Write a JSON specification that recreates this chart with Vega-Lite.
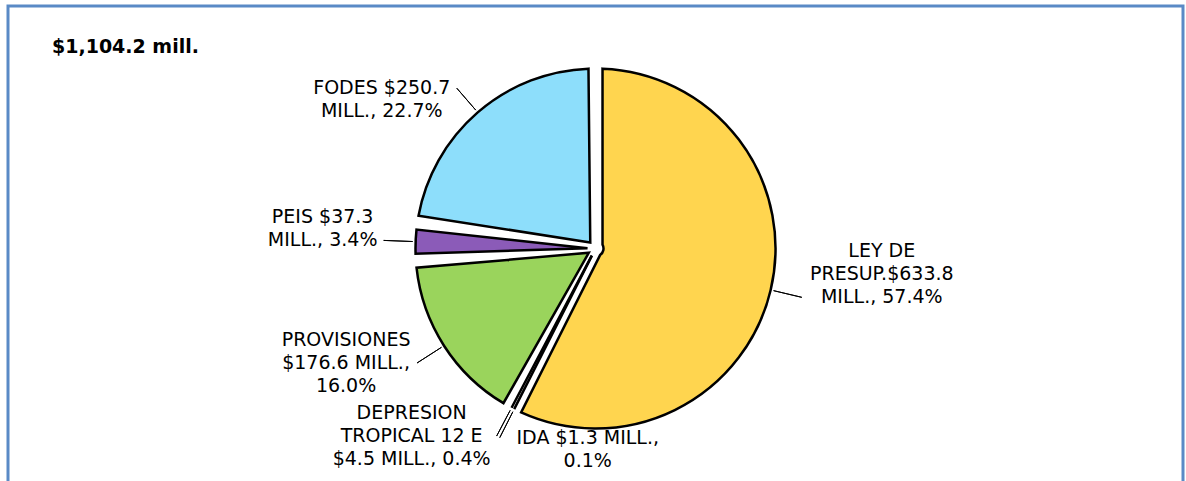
{
  "$schema": "https://vega.github.io/schema/vega-lite/v6.json",
  "width": 1186,
  "height": 481,
  "autosize": {"type": "fit", "contains": "padding"},
  "padding": {"left": 8, "top": 6, "right": 3, "bottom": -10},
  "background": "white",
  "view": {"stroke": "#5A8AC6", "strokeWidth": 3, "fill": "white"},
  "title": {
    "text": "$1,104.2 mill.",
    "anchor": "start",
    "frame": "group",
    "orient": "top",
    "offset": -66,
    "dx": 44,
    "baseline": "alphabetic",
    "font": "DejaVu Sans",
    "fontSize": 19,
    "fontWeight": "bold",
    "color": "#000000"
  },
  "config": {
    "view": {"stroke": "#5A8AC6", "strokeWidth": 3},
    "font": "DejaVu Sans"
  },
  "data": {
    "values": [
      {"rubro": "LEY DE PRESUP.", "orden": 1, "monto": 633.8, "etiqueta": ["LEY DE", "PRESUP.$633.8", "MILL., 57.4%"]},
      {"rubro": "IDA", "orden": 2, "monto": 1.3, "etiqueta": ["IDA $1.3 MILL.,", "0.1%"]},
      {"rubro": "DEPRESION TROPICAL 12 E", "orden": 3, "monto": 4.5, "etiqueta": ["DEPRESION", "TROPICAL 12 E", "$4.5 MILL., 0.4%"]},
      {"rubro": "PROVISIONES", "orden": 4, "monto": 176.6, "etiqueta": ["PROVISIONES", "$176.6 MILL.,", "16.0%"]},
      {"rubro": "PEIS", "orden": 5, "monto": 37.3, "etiqueta": ["PEIS $37.3", "MILL., 3.4%"]},
      {"rubro": "FODES", "orden": 6, "monto": 250.7, "etiqueta": ["FODES $250.7", "MILL., 22.7%"]}
    ]
  },
  "transform": [
    {"stack": "monto", "groupby": [], "sort": [{"field": "orden", "order": "ascending"}], "as": ["a0", "a1"]},
    {"calculate": "(datum.a0 + datum.a1) / 2", "as": "amid"}
  ],
  "layer": [
    {
      "mark": {"type": "arc", "radius": 180, "radius2": 8, "padAngle": 0.078, "stroke": "#000000", "strokeWidth": 2.5, "strokeJoin": "miter"},
      "encoding": {
        "theta": {"field": "a1", "type": "quantitative", "scale": {"nice": false, "zero": true}},
        "theta2": {"field": "a0"},
        "color": {
          "field": "rubro",
          "type": "nominal",
          "scale": {
            "domain": ["LEY DE PRESUP.", "IDA", "DEPRESION TROPICAL 12 E", "PROVISIONES", "PEIS", "FODES"],
            "range": ["#FFD54F", "#3CB4E5", "#1A1A1A", "#9AD45C", "#8B5BB8", "#8DDEFB"]
          },
          "legend": null
        }
      }
    },
    {
      "mark": {"type": "arc", "radius": 212, "radius2": 183, "filled": false, "stroke": "#000000", "strokeWidth": 1},
      "encoding": {
        "theta": {"field": "amid", "type": "quantitative"},
        "theta2": {"field": "amid"}
      }
    },
    {
      "transform": [{"filter": "datum.orden === 1"}],
      "mark": {"type": "text", "radius": 212, "align": "center", "baseline": "middle", "dx": 80, "dy": -46, "fontSize": 19, "lineHeight": 23, "color": "#000000"},
      "encoding": {"theta": {"field": "amid", "type": "quantitative"}, "text": {"field": "etiqueta"}}
    },
    {
      "transform": [{"filter": "datum.orden === 2"}],
      "mark": {"type": "text", "radius": 212, "align": "center", "baseline": "middle", "dx": 88, "dy": 0, "fontSize": 19, "lineHeight": 23, "color": "#000000"},
      "encoding": {"theta": {"field": "amid", "type": "quantitative"}, "text": {"field": "etiqueta"}}
    },
    {
      "transform": [{"filter": "datum.orden === 3"}],
      "mark": {"type": "text", "radius": 212, "align": "center", "baseline": "middle", "dx": -85, "dy": -23, "fontSize": 19, "lineHeight": 23, "color": "#000000"},
      "encoding": {"theta": {"field": "amid", "type": "quantitative"}, "text": {"field": "etiqueta"}}
    },
    {
      "transform": [{"filter": "datum.orden === 4"}],
      "mark": {"type": "text", "radius": 212, "align": "center", "baseline": "middle", "dx": -71, "dy": -23, "fontSize": 19, "lineHeight": 23, "color": "#000000"},
      "encoding": {"theta": {"field": "amid", "type": "quantitative"}, "text": {"field": "etiqueta"}}
    },
    {
      "transform": [{"filter": "datum.orden === 5"}],
      "mark": {"type": "text", "radius": 212, "align": "center", "baseline": "middle", "dx": -61, "dy": -23, "fontSize": 19, "lineHeight": 23, "color": "#000000"},
      "encoding": {"theta": {"field": "amid", "type": "quantitative"}, "text": {"field": "etiqueta"}}
    },
    {
      "transform": [{"filter": "datum.orden === 6"}],
      "mark": {"type": "text", "radius": 212, "align": "center", "baseline": "middle", "dx": -75, "dy": 0, "fontSize": 19, "lineHeight": 23, "color": "#000000"},
      "encoding": {"theta": {"field": "amid", "type": "quantitative"}, "text": {"field": "etiqueta"}}
    }
  ]
}
